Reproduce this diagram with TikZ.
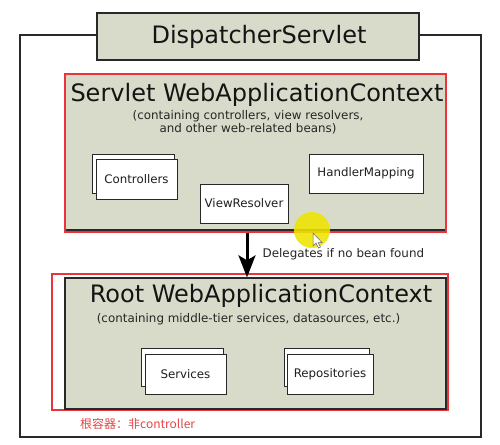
\documentclass[tikz,border=0pt]{standalone}
\usepackage{fontspec}
\setmainfont{DejaVu Sans}
\newfontfamily\cjk{Noto Sans CJK SC}
\usetikzlibrary{arrows.meta}
\definecolor{ctxfill}{RGB}{216,219,202}
\definecolor{edgec}{RGB}{40,40,40}
\definecolor{hired}{RGB}{232,52,58}
\definecolor{notered}{RGB}{228,70,70}
\definecolor{hilite}{RGB}{238,228,0}
\begin{document}
\begin{tikzpicture}[x=1pt,y=-1pt,
  frame/.style={draw=edgec, line width=1.3pt},
  ctx/.style={draw=edgec, line width=1.3pt, fill=ctxfill, inner sep=0pt},
  redbox/.style={draw=hired, line width=1.6pt, inner sep=0pt},
  bean/.style={draw=edgec, line width=1pt, fill=white, inner sep=0pt,
    font=\fontsize{11.8}{13}\selectfont, text=black!88},
  title/.style={font=\fontsize{24}{26}\selectfont, inner sep=0pt, text=black!92},
  sub/.style={font=\fontsize{11.9}{13.2}\selectfont, align=center, inner sep=0pt, text=black!85},
  lbl/.style={font=\fontsize{11.9}{13}\selectfont, inner sep=0pt, text=black!85}
]
\useasboundingbox (0,0) rectangle (500,444);
\fill[white] (0,0) rectangle (500,444);
% outer frame
\node[frame, minimum width=461pt, minimum height=402pt, inner sep=0pt] (outer) at (250.5,236) {};
% dispatcher servlet
\node[ctx, minimum width=322pt, minimum height=47pt] (ds) at (258,36.5) {};
\node[title] (dstext) at (259,36.5) {DispatcherServlet};
% servlet web application context
\node[ctx, minimum width=381pt, minimum height=156pt] (servlet) at (255.5,152) {};
\node[redbox, minimum width=381pt, minimum height=158pt] (servred) at (255.5,153) {};
\node[title] (servtitle) at (257,95) {Servlet WebApplicationContext};
\node[sub] (servsub) at (248,122.5) {(containing controllers, view resolvers,\\and other web-related beans)};
\node[bean, minimum width=82pt, minimum height=39pt] (ctrlback) at (133,173.5) {};
\node[bean, minimum width=81pt, minimum height=40pt] (ctrl) at (136.5,179) {Controllers};
\node[bean, minimum width=88pt, minimum height=39pt] (vr) at (244,203.5) {ViewResolver};
\node[bean, minimum width=114pt, minimum height=39pt] (hm) at (366,173.5) {HandlerMapping};
% root web application context
\node[redbox, minimum width=396pt, minimum height=136pt] (rootred) at (250,342) {};
\node[ctx, minimum width=381pt, minimum height=131pt] (root) at (255.5,343.5) {};
\node[title] (roottitle) at (261,296) {Root WebApplicationContext};
\node[sub] (rootsub) at (248.5,319) {(containing middle-tier services, datasources, etc.)};
\node[bean, minimum width=82pt, minimum height=38pt] (svcback) at (182,367) {};
\node[bean, minimum width=81pt, minimum height=40pt] (svc) at (185.5,374) {Services};
\node[bean, minimum width=85pt, minimum height=38pt] (repoback) at (326.5,367) {};
\node[bean, minimum width=86pt, minimum height=40pt] (repo) at (330,374) {Repositories};
% delegation arrow
\draw[line width=3pt, -{Stealth[length=22pt,width=17pt,inset=5pt]}]
  ([xshift=-8.5pt]servred.south) -- ([xshift=-8.5pt]root.north);
\node[lbl, anchor=west] (deleg) at (262.5,254) {Delegates if no bean found};
% note
\node[anchor=west, inner sep=0pt, text=notered, font=\cjk\fontsize{12}{14}\selectfont] (note) at (80,424) {根容器：非controller};
% cursor highlight
\fill[hilite, fill opacity=0.88] (312,230) circle (18);
\draw[fill=white, draw=black!60, line width=0.5pt] (313,233) -- (313,246) -- (316,243) -- (318.5,248) -- (320.5,247) -- (318,242.5) -- (322,242.5) -- cycle;
\end{tikzpicture}
\end{document}
